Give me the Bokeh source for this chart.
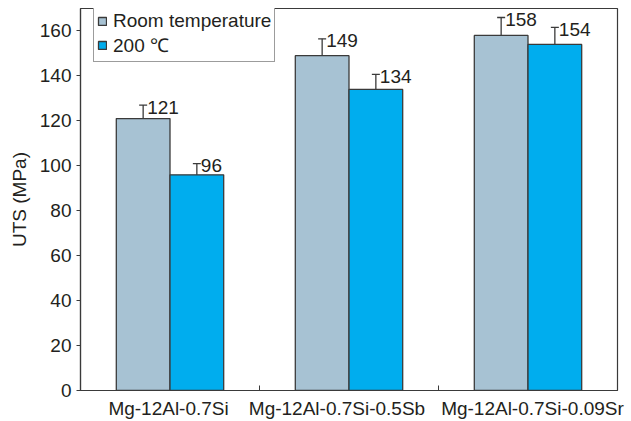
from bokeh.plotting import figure
from bokeh.models import (Range1d, FixedTicker, Whisker, TeeHead, ColumnDataSource,
                          Legend, LegendItem)
from bokeh.core.properties import value
from bokeh.embed import file_html
from bokeh.resources import INLINE

categories = ["Mg-12Al-0.7Si", "Mg-12Al-0.7Si-0.5Sb", "Mg-12Al-0.7Si-0.09Sr"]
series_names = ["Room temperature", "200 \u2103"]
rt_values = [121, 149, 158]
rt_errors = [6, 7.5, 8]
hot_values = [96, 134, 154]
hot_errors = [5, 6.7, 7.6]
y_ticks = [0, 20, 40, 60, 80, 100, 120, 140, 160]

FONT = "Liberation Sans"
FS = "19px"
TXT = "#231f20"
EDGE = "#3a3a3a"
GREY = "#a7c2d3"
BLUE = "#00adee"
BW = 0.3
# small horizontal shifts of the category labels (layout only), as in the original
LABEL_SHIFT = [-0.008, -0.067, 0.025]

p = figure(width=631, height=421, output_backend="svg", toolbar_location=None,
           x_range=Range1d(-0.5, 2.5), y_range=Range1d(0, 170),
           min_border_left=80, min_border_right=14, min_border_top=8, min_border_bottom=31)
p.xgrid.visible = False
p.ygrid.visible = False
p.outline_line_color = EDGE
p.outline_line_width = 1.2
p.background_fill_color = "white"
p.border_fill_color = "white"

def make_src(vals, errs, offset):
    idx = list(range(len(vals)))
    return ColumnDataSource(dict(
        x=[i + offset for i in idx], top=vals,
        upper=[v + e for v, e in zip(vals, errs)],
        lower=[v - e for v, e in zip(vals, errs)],
        label=[str(v) for v in vals]))

src_rt = make_src(rt_values, rt_errors, -BW / 2)
src_hot = make_src(hot_values, hot_errors, BW / 2)

r_rt = p.vbar(x="x", top="top", width=BW, bottom=0, source=src_rt,
              fill_color=GREY, line_color=EDGE, line_width=1.3)
r_hot = p.vbar(x="x", top="top", width=BW, bottom=0, source=src_hot,
               fill_color=BLUE, line_color=EDGE, line_width=1.3)

for src in (src_rt, src_hot):
    w = Whisker(base="x", upper="upper", lower="lower", source=src,
                line_color=EDGE, line_width=1.3,
                upper_head=TeeHead(size=8, line_color=EDGE, line_width=1.3),
                lower_head=TeeHead(size=8, line_color=EDGE, line_width=1.3))
    p.add_layout(w)
    p.text(x="x", y="upper", text="label", source=src, x_offset=4, y_offset=2,
           text_font=value(FONT), text_font_size=FS, text_color=TXT,
           text_baseline="middle", text_align="left")

# axes
label_pos = [i + s for i, s in enumerate(LABEL_SHIFT)]
xa = p.xaxis[0]
xa.ticker = FixedTicker(ticks=label_pos, minor_ticks=[0.5, 1.5])
xa.major_label_overrides = {pos: c for pos, c in zip(label_pos, categories)}
xa.major_tick_in = 0
xa.major_tick_out = 0
xa.minor_tick_in = 5
xa.minor_tick_out = 0
xa.minor_tick_line_color = EDGE
xa.major_label_standoff = 7
xa.axis_line_color = EDGE
xa.axis_line_width = 1.2

ya = p.yaxis[0]
ya.ticker = FixedTicker(ticks=y_ticks)
ya.major_tick_in = 0
ya.major_tick_out = 4
ya.minor_tick_in = 0
ya.minor_tick_out = 0
ya.major_tick_line_color = EDGE
ya.major_label_standoff = 5
ya.axis_line_color = EDGE
ya.axis_line_width = 1.2
ya.axis_label = "UTS (MPa)"
ya.axis_label_standoff = 7
ya.axis_label_text_font_style = "normal"

for ax in (xa, ya):
    ax.major_label_text_font = FONT
    ax.major_label_text_font_size = FS
    ax.major_label_text_color = TXT
    ax.axis_label_text_font = FONT
    ax.axis_label_text_font_size = FS
    ax.axis_label_text_color = TXT

legend = Legend(items=[LegendItem(label=series_names[0], renderers=[r_rt]),
                       LegendItem(label=series_names[1], renderers=[r_hot])],
                location=(13, 328))
legend.glyph_width = 10
legend.glyph_height = 10
legend.label_standoff = 6
legend.label_height = 18
legend.spacing = 0
legend.padding = 3
legend.margin = 0
legend.label_text_font = FONT
legend.label_text_font_size = FS
legend.label_text_color = TXT
legend.border_line_color = EDGE
legend.border_line_width = 1.3
legend.background_fill_alpha = 1
p.add_layout(legend)

open("out.html", "w").write(file_html(p, INLINE))
